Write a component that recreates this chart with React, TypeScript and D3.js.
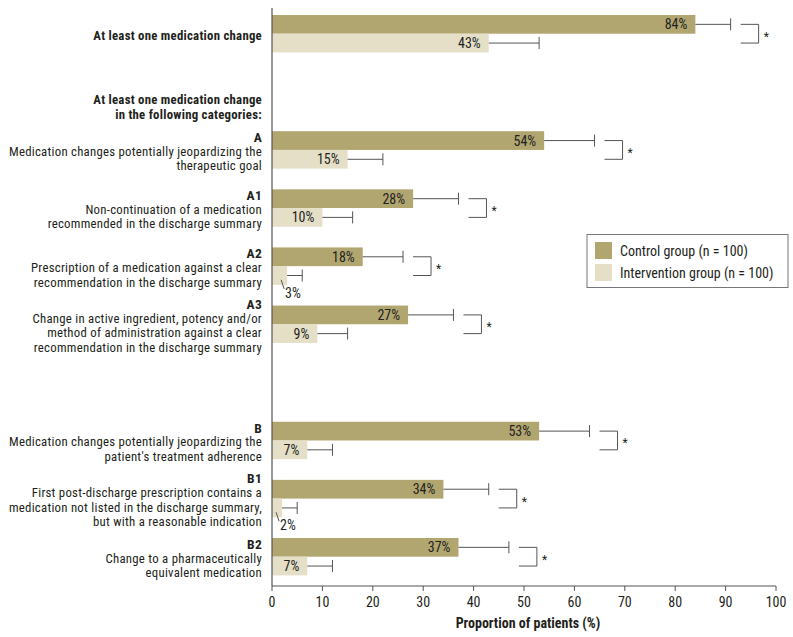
import React from "react";
import * as d3 from "d3";

const codes = ["", "A", "A1", "A2", "A3", "B", "B1", "B2"];
const descriptions: string[][] = [
  ["At least one medication change"],
  ["Medication changes potentially jeopardizing the", "therapeutic goal"],
  ["Non-continuation of a medication", "recommended in the discharge summary"],
  ["Prescription of a medication against a clear", "recommendation in the discharge summary"],
  ["Change in active ingredient, potency and/or", "method of administration against a clear", "recommendation in the discharge summary"],
  ["Medication changes potentially jeopardizing the", "patient's treatment adherence"],
  ["First post-discharge prescription contains a", "medication not listed in the discharge summary,", "but with a reasonable indication"],
  ["Change to a pharmaceutically", "equivalent medication"],
];
const slotIndex = [0, 2, 3, 4, 5, 7, 8, 9];
const headerLines = ["At least one medication change", "in the following categories:"];
const headerSlot = 1;

const controlValues = [84, 54, 28, 18, 27, 53, 34, 37];
const controlUpper = [91, 64, 37, 26, 36, 63, 43, 47];
const interventionValues = [43, 15, 10, 3, 9, 7, 2, 7];
const interventionUpper = [53, 22, 16, 6, 15, 12, 5, 12];
const significant = [true, true, true, true, true, true, true, true];

const seriesNames = ["Control group (n = 100)", "Intervention group (n = 100)"];
const seriesKeys = ["control", "intervention"];
const xTicks = [0, 10, 20, 30, 40, 50, 60, 70, 80, 90, 100];
const xTitle = "Proportion of patients (%)";

const COLORS = ["#b1a570", "#e5dfc8"];
const FONT = "'Liberation Sans Narrow', 'Arial Narrow', 'Roboto Condensed', sans-serif";
const TEXT = "#231f20";
const LINE = "#555";

export default function App() {
  const W = 793, H = 637;
  const x = d3.scaleLinear().domain([0, 100]).range([272, 776]);
  const slots = d3.range(10).map(String);
  const y = d3.scaleBand<string>().domain(slots).range([15, 575.4]).paddingInner(0.356).paddingOuter(0);
  const sub = d3.scaleBand<string>().domain(seriesKeys).range([0, y.bandwidth()]);
  const bh = sub.bandwidth();
  const lineH = 14.4;
  const fs = 12.8;
  const ls = 0.25;

  const groups = controlValues.map((_, i) => {
    const top = y(String(slotIndex[i]))!;
    return { i, top, center: top + y.bandwidth() / 2 };
  });

  return (
    <svg width={W} height={H} style={{ position: "absolute", left: 0, top: 0, background: "#fff" }} fontFamily={FONT}>
      {/* header */}
      {headerLines.map((t, k) => (
        <text key={"h" + k} x={262} y={y(String(headerSlot))! + y.bandwidth() / 2 + 8 + k * lineH}
          textAnchor="end" dominantBaseline="central" fontSize={fs} letterSpacing={ls} fontWeight="bold" fill={TEXT}>{t}</text>
      ))}
      {/* category labels */}
      {groups.map(({ i, center }) => {
        const lines = codes[i] ? [codes[i], ...descriptions[i]] : descriptions[i];
        const start = center + 1.5 - ((lines.length - 1) * lineH) / 2;
        return lines.map((t, k) => (
          <text key={"l" + i + "-" + k} x={262} y={start + k * lineH} textAnchor="end" dominantBaseline="central"
            fontSize={codes[i] && k === 0 ? 13.5 : fs} letterSpacing={ls}
            fontWeight={(codes[i] && k === 0) || !codes[i] ? "bold" : "normal"} fill={TEXT}>{t}</text>
        ));
      })}
      {/* bars */}
      {groups.map(({ i, top }) => {
        const vals = [controlValues[i], interventionValues[i]];
        const ups = [controlUpper[i], interventionUpper[i]];
        return (
          <g key={"g" + i}>
            {vals.map((v, s) => {
              const by = top + sub(seriesKeys[s])!;
              const cy = by + bh / 2;
              return (
                <g key={s}>
                  <rect x={x(0)} y={by} width={x(v) - x(0)} height={bh} fill={COLORS[s]} />
                  <line x1={x(v)} x2={x(ups[s])} y1={cy} y2={cy} stroke={LINE} strokeWidth={1} />
                  <line x1={x(ups[s])} x2={x(ups[s])} y1={cy - 6} y2={cy + 6} stroke={LINE} strokeWidth={1} />
                  {v >= 5 ? (
                    <text x={x(v) - 8} y={cy} textAnchor="end" dominantBaseline="central" fontSize={14} fill={TEXT}>{v}%</text>
                  ) : (
                    <g>
                      <line x1={x(v) - 6} y1={by + bh - 5} x2={x(v) - 3} y2={by + bh + 4} stroke={LINE} strokeWidth={1} />
                      <text x={x(v) - 2} y={by + bh + 8} dominantBaseline="central" fontSize={14} fill={TEXT}>{v}%</text>
                    </g>
                  )}
                </g>
              );
            })}
            {significant[i] && (() => {
              const c1 = top + sub(seriesKeys[0])! + bh / 2;
              const c2 = top + sub(seriesKeys[1])! + bh / 2;
              const left = x(controlUpper[i]) + 10;
              const right = left + 18;
              return (
                <g>
                  <path d={`M${left},${c1}H${right}V${c2}H${left}`} fill="none" stroke={LINE} strokeWidth={1} />
                  <text x={right + 5} y={(c1 + c2) / 2 + 3} fontSize={12} fill={TEXT} dominantBaseline="central">*</text>
                </g>
              );
            })()}
          </g>
        );
      })}
      {/* axes */}
      <line x1={x(0)} x2={x(0)} y1={8} y2={586} stroke={LINE} strokeWidth={1.2} />
      <line x1={x(0)} x2={x(100)} y1={586} y2={586} stroke={LINE} strokeWidth={1.2} />
      {xTicks.map((t) => (
        <g key={"t" + t}>
          <line x1={x(t)} x2={x(t)} y1={586} y2={591} stroke={LINE} strokeWidth={1} />
          <text x={x(t)} y={602} textAnchor="middle" dominantBaseline="central" fontSize={14} fill={TEXT}>{t}</text>
        </g>
      ))}
      <text x={528} y={623} textAnchor="middle" dominantBaseline="central" fontSize={14} fontWeight="bold" fill={TEXT}>{xTitle}</text>
      {/* legend */}
      <rect x={587} y={234.5} width={201} height={53} fill="#fff" stroke="#777" strokeWidth={1} />
      {seriesNames.map((n, s) => (
        <g key={"lg" + s}>
          <rect x={595} y={242 + s * 22} width={17} height={17} fill={COLORS[s]} />
          <text x={620} y={250.5 + s * 22} dominantBaseline="central" fontSize={14} fill={TEXT}>{n}</text>
        </g>
      ))}
    </svg>
  );
}
